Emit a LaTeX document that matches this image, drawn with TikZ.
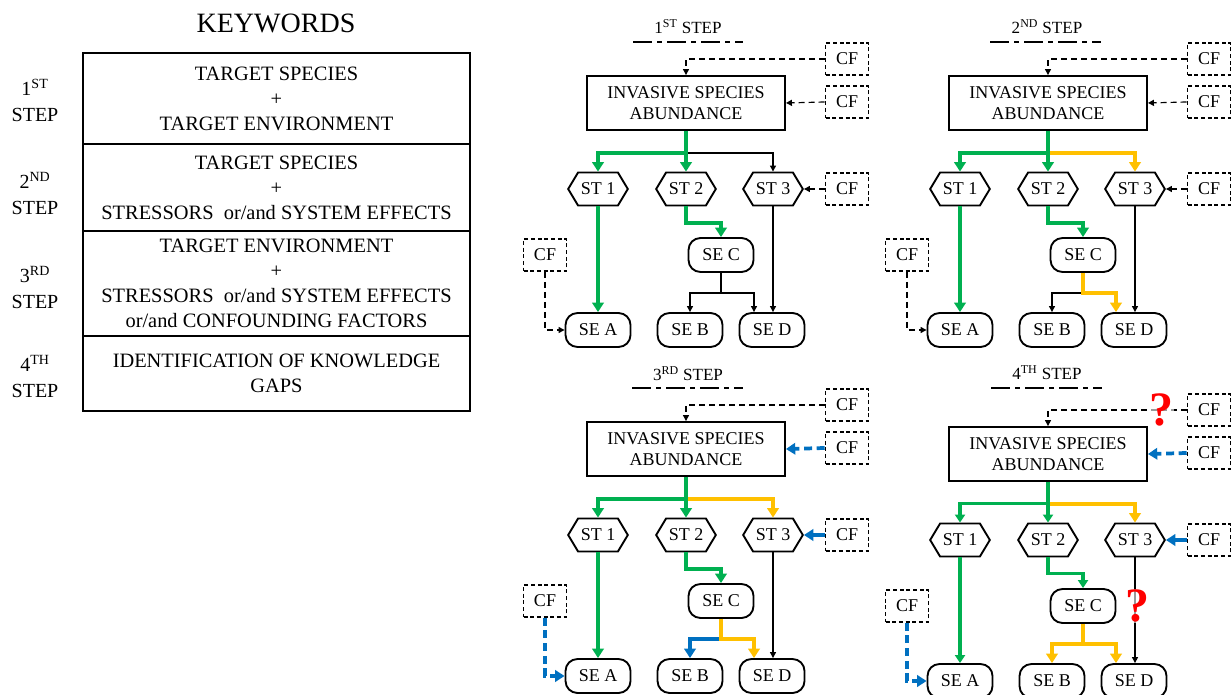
\documentclass[tikz,border=0pt]{standalone}
\usepackage{fontspec}
\setmainfont{Liberation Serif}
\usetikzlibrary{arrows.meta,shapes.symbols,calc}

\definecolor{grn}{RGB}{0,176,80}
\definecolor{ylw}{RGB}{255,192,0}
\definecolor{blu}{RGB}{0,112,192}
\definecolor{qred}{RGB}{255,0,0}

\tikzset{
  diag/.style={font=\fontsize{13.5}{15.75}\selectfont},
  mainbox/.style={draw, line width=1.4pt, minimum width=148.5pt, minimum height=40.5pt,
    inner sep=0pt, align=center, diag},
  cfbox/.style={draw, line width=1.2pt, dash pattern=on 3pt off 2pt,
    minimum width=32.25pt, minimum height=24pt, inner sep=0pt, diag},
  sebox/.style={draw, line width=1.4pt, rounded corners=9pt, minimum width=48.75pt,
    minimum height=25.5pt, inner sep=0pt, diag},
  sthex/.style={draw, line width=1.4pt, signal, signal to=east and west,
    signal pointer angle=118, minimum height=24.75pt, inner xsep=2pt, inner ysep=0pt, diag},
  kwrow/.style={draw, line width=1.5pt, minimum width=290.25pt, inner sep=0pt, align=center,
    font=\fontsize{15.3}{18.75}\selectfont},
  steplabel/.style={align=center, font=\fontsize{15}{19}\selectfont},
  steptitle/.style={anchor=base, font=\fontsize{12.8}{15}\selectfont},
  dashdot/.style={line width=2.2pt, dash pattern=on 14pt off 4pt on 3.5pt off 4pt},
  qmark/.style={text=qred, font=\bfseries\fontsize{36}{36}\selectfont, fill=white,
    fill opacity=0.6, text opacity=1, inner sep=0.5pt},
  % connector looks
  thinln/.style={draw=black, line width=0.9pt, -{Triangle[length=4.5pt,width=4.5pt]}},
  thickln/.style={line width=2.8pt, -{Triangle[length=7pt,width=8.5pt]}},
  thindash/.style={thinln, dash pattern=on 4.5pt off 3pt},
  greenthick/.style={thickln, draw=grn},
  greenmed/.style={draw=grn, line width=2.3pt, -{Triangle[length=6pt,width=7.5pt]}},
  yellowthick/.style={thickln, draw=ylw},
  bluethick/.style={thickln, draw=blu},
  bluedash/.style={thickln, draw=blu, dash pattern=on 6pt off 3.5pt},
  % default role of every connector in a step diagram
  lnOne/.style={greenthick}, lnTwo/.style={greenthick}, lnThree/.style={thinln},
  lnA/.style={greenthick}, lnC/.style={greenthick},
  lnB/.style={thinln}, lnD/.style={thinln}, lnDirect/.style={thinln},
  cfTop/.style={thindash}, cfBox/.style={thindash}, cfThree/.style={thindash}, cfA/.style={thindash},
}

% one step diagram: #1 name prefix, #2/#3 shift, #4 connector styles
\newcommand{\flowpanel}[4]{%
\begin{scope}[shift={(#2,#3)},#4]
  \node[mainbox] (#1box) at (686,103) {INVASIVE SPECIES\\ABUNDANCE};
  \node[cfbox] (#1cft) at (847,59) {CF};
  \node[cfbox] (#1cfb) at (847,102) {CF};
  \node[cfbox] (#1cfs) at (847,189) {CF};
  \node[cfbox] (#1cfl) at (545,255) {CF};
  \node[sthex] (#1st1) at (598,189) {ST 1};
  \node[sthex] (#1st2) at (686,189) {ST 2};
  \node[sthex] (#1st3) at (773,189) {ST 3};
  \node[sebox] (#1sec) at (721,255) {SE C};
  \node[sebox] (#1sea) at (598,330) {SE A};
  \node[sebox] (#1seb) at (690,330) {SE B};
  \node[sebox] (#1sed) at (772,330) {SE D};
  \path (#1box.south) ++(0,22) coordinate (#1j);
  \path (#1sec.south) ++(0,20) coordinate (#1k);
  % confounding factors
  \draw[cfTop] (#1cft.west) -| (#1box.north);
  \draw[cfBox] (#1cfb.west) -- (#1box.east);
  \draw[cfThree] (#1cfs.west) -- (#1st3.east);
  \draw[cfA] (#1cfl.south) |- (#1sea.west);
  % stressors
  \draw[lnThree] (#1j) -| (#1st3.north);
  \draw[lnOne] (#1box.south) -- (#1j) -| (#1st1.north);
  \draw[lnTwo] (#1box.south) -- (#1st2.north);
  % system effects
  \draw[lnDirect] (#1st3.south) -- (#1st3.south |- #1sed.north);
  \draw[lnB] (#1k) -| (#1seb.north);
  \draw[lnD] (#1sec.south) -- (#1k) -| ([xshift=-13.5pt]#1sed.north);
  \draw[lnA] (#1st1.south) -- (#1sea.north);
  \draw[lnC] (#1st2.south) -- ++(0,16.5) -| (#1sec.north);
\end{scope}}

\begin{document}
\begin{tikzpicture}[x=0.75pt,y=-0.75pt]
\useasboundingbox (0,0) rectangle (1232,695);

% keyword table
\node[font=\fontsize{21}{24}\selectfont] (kw) at (276,23) {KEYWORDS};
\node[kwrow, minimum height=68.25pt] (r1) at (276.5,98.5)
  {TARGET SPECIES\\+\\TARGET ENVIRONMENT};
\node[kwrow, minimum height=65.25pt] (r2) at (276.5,187.5)
  {TARGET SPECIES\\+\\STRESSORS~~or/and SYSTEM EFFECTS};
\node[kwrow, minimum height=78.75pt] (r3) at (276.5,283.5)
  {TARGET ENVIRONMENT\\+\\STRESSORS~~or/and SYSTEM EFFECTS\\or/and CONFOUNDING FACTORS};
\node[kwrow, minimum height=56.25pt] (r4) at (276.5,373.5)
  {IDENTIFICATION OF KNOWLEDGE\\GAPS};
\node[steplabel] (l1) at (35,100.5) {1\textsuperscript{ST}\\STEP};
\node[steplabel] (l2) at (35,193.5) {2\textsuperscript{ND}\\STEP};
\node[steplabel] (l3) at (35,287.5) {3\textsuperscript{RD}\\STEP};
\node[steplabel] (l4) at (35,376.5) {4\textsuperscript{TH}\\STEP};

% step titles
\node[steptitle] (t1) at (688,33.5) {1\textsuperscript{ST} STEP};
\node[steptitle] (t2) at (1047,33.5) {2\textsuperscript{ND} STEP};
\node[steptitle] (t3) at (688,380) {3\textsuperscript{RD} STEP};
\node[steptitle] (t4) at (1047,379) {4\textsuperscript{TH} STEP};
\draw[dashdot] (633,42) -- (743,42);
\draw[dashdot] (990,42) -- (1101,42);
\draw[dashdot] (632,388) -- (743,388);
\draw[dashdot] (991,388) -- (1102,388);

% the four steps
\flowpanel{p1}{0}{0}{}
\flowpanel{p2}{362}{0}{lnThree/.style={yellowthick}, lnD/.style={yellowthick}}
\flowpanel{p3}{0}{346}{lnThree/.style={yellowthick}, lnD/.style={yellowthick},
  lnB/.style={bluethick}, cfBox/.style={bluedash}, cfThree/.style={bluethick}, cfA/.style={bluedash}}
\flowpanel{p4}{362}{351}{lnOne/.style={greenmed}, lnTwo/.style={greenmed},
  lnA/.style={greenmed}, lnC/.style={greenmed},
  lnThree/.style={yellowthick}, lnD/.style={yellowthick}, lnB/.style={yellowthick},
  cfBox/.style={bluedash}, cfThree/.style={bluethick}, cfA/.style={bluedash}}

% knowledge gaps
\node[qmark] (q1) at ($(p4cft.west)+(-25,0)$) {?};
\node[qmark] (q2) at ($(p4st3.south |- p4sec.center)+(2,0)$) {?};
\end{tikzpicture}
\end{document}
